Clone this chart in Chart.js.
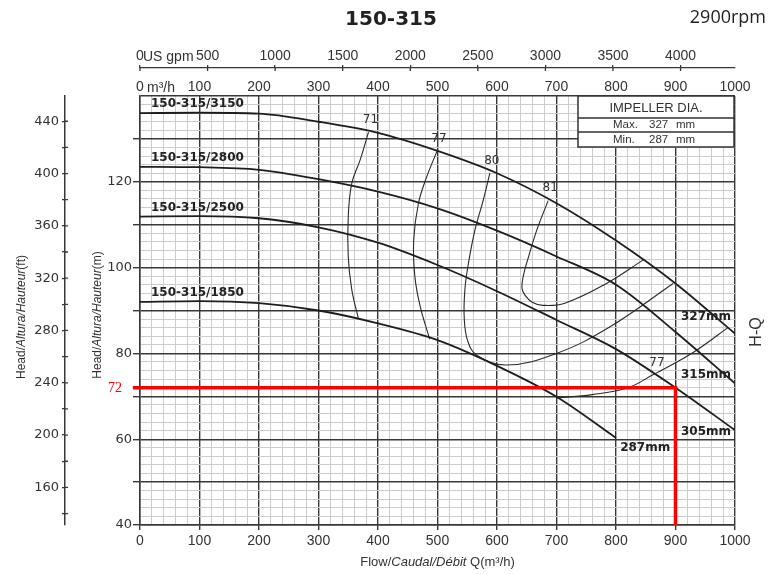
<!DOCTYPE html>
<html>
<head>
<meta charset="utf-8">
<title>150-315 pump curve</title>
<script src="https://cdn.jsdelivr.net/npm/chart.js@4.4.1/dist/chart.umd.min.js"></script>
<style>
  html, body { margin: 0; padding: 0; background: #fff; }
</style>
</head>
<body>
<canvas id="pump-chart" width="771" height="574"></canvas>
<script>
const chartTitle = '150-315';
const speedLabel = '2900rpm';

// H-Q curves, flow in m3/h, head in m
const flow = [0, 100, 200, 300, 400, 500, 600, 700, 800, 900, 1000];
const flow1850 = [0, 100, 200, 300, 400, 500, 600, 700, 800];
const head3150 = [136.0, 136.1, 135.9, 134.0, 131.4, 127.2, 122.0, 115.0, 106.3, 96.3, 84.6];
const head2800 = [123.5, 123.4, 122.8, 120.6, 117.7, 113.8, 108.6, 102.6, 96.0, 85.0, 73.0];
const head2500 = [111.9, 112.0, 111.5, 109.4, 105.8, 100.6, 94.5, 87.8, 81.0, 72.0, 62.1];
const head1850 = [92.0, 92.2, 91.7, 90.0, 87.0, 83.1, 77.1, 69.9, 60.3];
const curveNames = ['150-315/3150', '150-315/2800', '150-315/2500', '150-315/1850'];
const impellerDia = [327, 315, 305, 287];
const impellerMax = 327;
const impellerMin = 287;

// iso-efficiency lines (%)
const eff71Flow = [384, 370, 356, 350, 350, 356, 367];
const eff71Head = [131.6, 125.1, 119.7, 111.9, 102.5, 94.8, 88.1];
const eff77aFlow = [499, 482, 468, 460, 462, 471, 487];
const eff77aHead = [127.1, 121.2, 115.0, 106.4, 97.9, 90.9, 83.3];
const eff80Flow = [588, 577, 563, 552, 546, 545, 551, 566, 616, 700, 790, 896];
const eff80Head = [122.0, 115.8, 108.8, 101.0, 94.8, 88.0, 82.8, 79.6, 77.3, 80.0, 86.2, 96.3];
const eff81Flow = [686, 667, 653, 644, 642, 647, 659, 677, 714, 784, 846];
const eff81Head = [115.6, 108.8, 102.5, 97.9, 95.2, 93.6, 91.9, 91.2, 91.7, 96.3, 101.8];
const eff77bFlow = [700, 760, 820, 862, 900, 936, 988];
const eff77bHead = [69.6, 70.4, 72.0, 75.0, 77.8, 80.8, 86.0];
const effLabels = ['71', '77', '80', '81', '77'];

// second flow scale
const gpmTicks = [0, 500, 1000, 1500, 2000, 2500, 3000, 3500, 4000];

// duty point
const dutyFlow = [-12, 900, 900];
const dutyHead = [72, 72, 40];
const dutyLabel = '72';

const M3H_TO_GPM = 4.4029;
const M_TO_FT = 3.28084;

const MAJOR = '#383838';
const MINOR = '#cdcdcd';
const SANS = "'Liberation Sans', sans-serif";

function toPoints(xs, ys) {
  return xs.map((x, i) => ({ x, y: ys[i] }));
}

function hqCurve(xs, ys) {
  return {
    data: toPoints(xs, ys),
    showLine: true,
    borderColor: '#1e1e1e',
    borderWidth: 1.8,
    cubicInterpolationMode: 'monotone'
  };
}

function effCurve(xs, ys) {
  return {
    data: toPoints(xs, ys),
    showLine: true,
    borderColor: '#2a2a2a',
    borderWidth: 1.1,
    tension: 0.4
  };
}

function drawRich(ctx, parts, cx, cy, rot) {
  ctx.save();
  ctx.translate(cx, cy);
  ctx.rotate(rot);
  let total = 0;
  parts.forEach((p) => {
    ctx.font = p.font;
    p.w = ctx.measureText(p.text).width;
    total += p.w;
  });
  let x = -total / 2;
  ctx.textAlign = 'left';
  parts.forEach((p) => {
    ctx.font = p.font;
    ctx.fillText(p.text, x, 0);
    x += p.w;
  });
  ctx.restore();
}

const pumpText = {
  id: 'pumpText',
  afterDraw(chart) {
    const { ctx, chartArea: area, scales } = chart;
    const px = (q) => scales.x.getPixelForValue(q);
    const py = (h) => scales.y.getPixelForValue(h);

    ctx.save();

    // tick marks of the ft and gpm scales cross their axis line
    ctx.strokeStyle = MAJOR;
    ctx.lineWidth = 1.3;
    ctx.beginPath();
    scales.xg.ticks.forEach((t) => {
      const x = scales.xg.getPixelForValue(t.value);
      ctx.moveTo(x, scales.xg.bottom);
      ctx.lineTo(x, scales.xg.bottom + 3);
    });
    scales.yft.ticks.forEach((t) => {
      const y = scales.yft.getPixelForValue(t.value);
      ctx.moveTo(scales.yft.right, y);
      ctx.lineTo(scales.yft.right + 3, y);
    });
    ctx.stroke();

    ctx.textBaseline = 'middle';
    ctx.fillStyle = '#222';

    ctx.font = 'bold 20px "DejaVu Sans"';
    ctx.textAlign = 'center';
    ctx.fillText(chartTitle, 391, 20);
    ctx.font = "18px 'Open Sans'";
    ctx.textAlign = 'right';
    ctx.fillText(speedLabel, 766, 18);

    // unit names next to the zero ticks
    ctx.fillStyle = '#333';
    ctx.font = '14px ' + SANS;
    ctx.textAlign = 'left';
    ctx.fillText('US gpm', px(0) + 3, scales.xg.bottom - 11.3);
    ctx.fillText('m³/h', px(0) + 7, scales.x2.bottom - 8.3);

    // curve names
    ctx.fillStyle = '#222';
    ctx.font = 'bold 12px "DejaVu Sans"';
    [head3150, head2800, head2500, head1850].forEach((h, i) => {
      ctx.fillText(curveNames[i], px(0) + 11, py(h[0]) - 9);
    });

    // efficiency labels
    ctx.fillStyle = '#333';
    ctx.font = '12px "DejaVu Sans"';
    ctx.textAlign = 'center';
    const starts = [
      [eff71Flow[0], eff71Head[0]],
      [eff77aFlow[0], eff77aHead[0]],
      [eff80Flow[0], eff80Head[0]],
      [eff81Flow[0], eff81Head[0]]
    ];
    starts.forEach((s, i) => {
      ctx.fillText(effLabels[i], px(s[0]) + 2, py(s[1]) - 12.5);
    });
    ctx.fillText(effLabels[4], px(eff77bFlow[3]) + 4, py(eff77bHead[3]) - 12);

    // impeller diameter labels
    ctx.fillStyle = '#222';
    ctx.font = 'bold 12px "DejaVu Sans"';
    ctx.textAlign = 'right';
    ctx.fillText(impellerDia[0] + 'mm', area.right - 4, py(88.4));
    ctx.fillText(impellerDia[1] + 'mm', area.right - 4, py(74.9));
    ctx.fillText(impellerDia[2] + 'mm', area.right - 4, py(61.6));
    ctx.textAlign = 'left';
    ctx.fillText(impellerDia[3] + 'mm', px(807), py(57.9));

    // impeller box
    const bx = area.right - 157;
    const by = area.top;
    ctx.fillStyle = '#fff';
    ctx.fillRect(bx, by, 156, 51);
    ctx.strokeStyle = '#333';
    ctx.lineWidth = 1.5;
    ctx.strokeRect(bx, by, 156, 51);
    ctx.beginPath();
    ctx.moveTo(bx, by + 22);
    ctx.lineTo(bx + 156, by + 22);
    ctx.moveTo(bx, by + 36);
    ctx.lineTo(bx + 156, by + 36);
    ctx.stroke();
    ctx.fillStyle = '#333';
    ctx.font = "13px 'Liberation Sans'";
    ctx.textAlign = 'center';
    ctx.fillText('IMPELLER DIA.', bx + 78, by + 12);
    ctx.font = "11.5px 'Liberation Sans'";
    ctx.textAlign = 'left';
    ctx.fillText('Max.', bx + 35, by + 29);
    ctx.fillText(String(impellerMax), bx + 71, by + 29);
    ctx.fillText('mm', bx + 98, by + 29);
    ctx.fillText('Min.', bx + 35, by + 43.5);
    ctx.fillText(String(impellerMin), bx + 71, by + 43.5);
    ctx.fillText('mm', bx + 98, by + 43.5);

    // H-Q
    ctx.save();
    ctx.translate(757, 332);
    ctx.rotate(-Math.PI / 2);
    ctx.font = "16px 'Liberation Sans'";
    ctx.textAlign = 'center';
    ctx.fillStyle = '#333';
    ctx.fillText('H-Q', 0, 0);
    ctx.restore();

    // duty head label
    ctx.fillStyle = '#ff0000';
    ctx.font = "14px 'Liberation Serif'";
    ctx.textAlign = 'right';
    ctx.fillText(dutyLabel, 122, py(dutyHead[0]) + 1);

    // axis titles
    ctx.fillStyle = '#333';
    const n = "12px 'Liberation Sans'";
    const it = "italic 12px 'Liberation Sans'";
    drawRich(ctx, [
      { text: 'Head/', font: n },
      { text: 'Altura/Hauteur', font: it },
      { text: '(ft)', font: n }
    ], scales.yft.left + 14, 317, -Math.PI / 2);
    drawRich(ctx, [
      { text: 'Head/', font: n },
      { text: 'Altura/Hauteur', font: it },
      { text: '(m)', font: n }
    ], scales.y.left + 33, 315, -Math.PI / 2);
    drawRich(ctx, [
      { text: 'Flow/', font: "13px 'Liberation Sans'" },
      { text: 'Caudal/Débit', font: "italic 13px 'Liberation Sans'" },
      { text: ' Q(m³/h)', font: "13px 'Liberation Sans'" }
    ], (area.left + area.right) / 2, 562, 0);

    ctx.restore();
  }
};

const isMajor = (v, step) => Math.abs(v % step) < 1e-6;

new Chart(document.getElementById('pump-chart'), {
  type: 'scatter',
  data: {
    datasets: [
      {
        data: toPoints(dutyFlow, dutyHead),
        showLine: true,
        borderColor: '#ff0000',
        borderWidth: 3.5,
        borderJoinStyle: 'miter',
        clip: false,
        tension: 0
      },
      hqCurve(flow, head3150),
      hqCurve(flow, head2800),
      hqCurve(flow, head2500),
      hqCurve(flow1850, head1850),
      effCurve(eff71Flow, eff71Head),
      effCurve(eff77aFlow, eff77aHead),
      effCurve(eff80Flow, eff80Head),
      effCurve(eff81Flow, eff81Head),
      effCurve(eff77bFlow, eff77bHead)
    ]
  },
  options: {
    responsive: false,
    animation: false,
    events: [],
    layout: { padding: { left: 8, right: 36, top: 40, bottom: 0 } },
    elements: { point: { radius: 0 } },
    plugins: { legend: { display: false }, tooltip: { enabled: false } },
    scales: {
      x: {
        type: 'linear',
        position: 'bottom',
        min: 0,
        max: 1000,
        afterFit: (s) => { s.height = 49; },
        ticks: {
          stepSize: 20,
          autoSkip: false,
          maxRotation: 0,
          minRotation: 0,
          padding: 3,
          color: '#333',
          font: { family: SANS, size: 14 },
          callback: (v) => (isMajor(v, 100) ? String(v) : '')
        },
        grid: {
          color: (c) => (c.tick && isMajor(c.tick.value, 100) ? MAJOR : MINOR),
          lineWidth: (c) => (c.tick && isMajor(c.tick.value, 100) ? 1.4 : 1),
          tickColor: (c) => (c.tick && isMajor(c.tick.value, 100) ? MAJOR : 'rgba(0,0,0,0)'),
          tickLength: 5
        },
        border: { color: MAJOR, width: 1.5 }
      },
      x2: {
        type: 'linear',
        position: 'top',
        weight: 0,
        min: 0,
        max: 1000,
        afterFit: (s) => { s.height = 28; },
        ticks: {
          stepSize: 100,
          autoSkip: false,
          maxRotation: 0,
          padding: 0,
          color: '#333',
          font: { family: SANS, size: 14 },
          callback: (v) => String(v)
        },
        grid: { drawOnChartArea: false, drawTicks: false },
        border: { display: false }
      },
      xg: {
        type: 'linear',
        position: 'top',
        weight: 1,
        min: 0,
        max: 1000 * M3H_TO_GPM,
        afterFit: (s) => { s.height = 28; },
        afterBuildTicks: (s) => { s.ticks = gpmTicks.map((v) => ({ value: v })); },
        ticks: {
          autoSkip: false,
          maxRotation: 0,
          padding: 0,
          color: '#333',
          font: { family: SANS, size: 14 },
          callback: (v) => String(v)
        },
        grid: { drawOnChartArea: false, tickLength: 3, tickColor: MAJOR, lineWidth: 1.3 },
        border: { display: true, color: MAJOR, width: 1.3 }
      },
      y: {
        type: 'linear',
        position: 'left',
        weight: 0,
        min: 40,
        max: 140,
        afterFit: (s) => { s.width = 75; },
        ticks: {
          stepSize: 2,
          autoSkip: false,
          padding: 1,
          color: '#333',
          font: { family: 'DejaVu Sans', size: 13 },
          callback: (v) => (isMajor(v, 20) && v < 140 ? String(v) : '')
        },
        grid: {
          color: (c) => (c.tick && isMajor(c.tick.value, 10) ? MAJOR : MINOR),
          lineWidth: (c) => (c.tick && isMajor(c.tick.value, 10) ? 1.4 : 1),
          tickColor: (c) => (c.tick && isMajor(c.tick.value, 10) && c.tick.value < 140 ? MAJOR : 'rgba(0,0,0,0)'),
          tickLength: 7
        },
        border: { color: MAJOR, width: 1.5 }
      },
      yft: {
        type: 'linear',
        position: 'left',
        weight: 1,
        min: 40 * M_TO_FT,
        max: 140 * M_TO_FT,
        afterFit: (s) => { s.width = 57; },
        ticks: {
          stepSize: 20,
          includeBounds: false,
          autoSkip: false,
          padding: 3,
          color: '#333',
          font: { family: 'DejaVu Sans', size: 13 },
          callback: (v) => (isMajor(v, 40) ? String(v) : '')
        },
        grid: { drawOnChartArea: false, tickLength: 3, tickColor: MAJOR, lineWidth: 1.3 },
        border: { display: true, color: MAJOR, width: 1.5 }
      }
    }
  },
  plugins: [pumpText]
});
</script>
</body>
</html>
